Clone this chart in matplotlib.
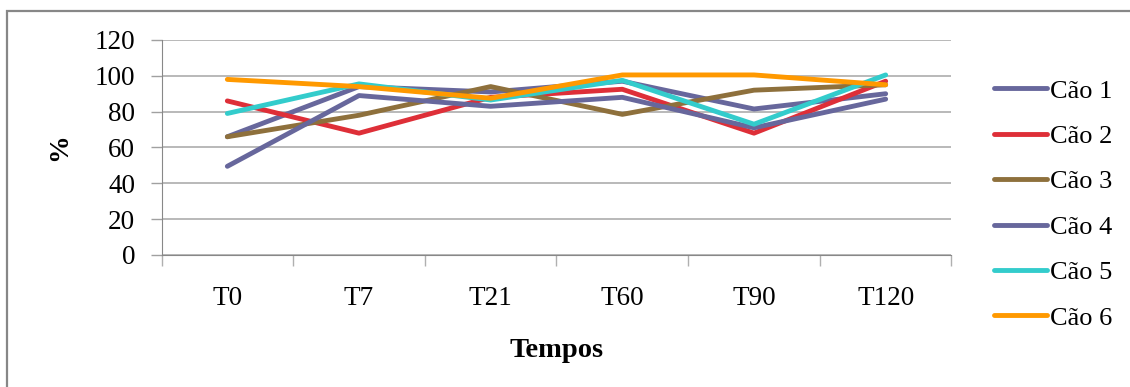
import numpy as np
import matplotlib
matplotlib.use('Agg')
import matplotlib.pyplot as plt
from matplotlib.patches import Rectangle

# data
tempos = ['T0', 'T7', 'T21', 'T60', 'T90', 'T120']
cao_1 = [66, 94, 91, 97, 81.5, 90]
cao_2 = [86, 68, 88, 92.5, 68, 97]
cao_3 = [66, 78, 94, 78.5, 92, 95]
cao_4 = [49.5, 89, 83, 88, 71, 87]
cao_5 = [79, 95.5, 86.5, 97.5, 73, 100.5]
cao_6 = [98, 94, 87.5, 100.5, 100.5, 95]

labels = ['Cão 1', 'Cão 2', 'Cão 3', 'Cão 4', 'Cão 5', 'Cão 6']
colors = ['#67679C', '#DE2F38', '#8E703C', '#67679C', '#33CCCC', '#FF9900']
series = [cao_1, cao_2, cao_3, cao_4, cao_5, cao_6]

plt.rcParams['font.family'] = ['Liberation Serif', 'DejaVu Serif']

fig = plt.figure(figsize=(11.3, 3.87), dpi=100)
fig.patches.append(Rectangle((7 / 1130, -0.05), 1.2, 1 - 11 / 387 + 0.05,
                             transform=fig.transFigure, fill=False,
                             edgecolor='#878787', linewidth=1.6))

ax = fig.add_axes([161.5 / 1130, 1 - 255 / 387, 790 / 1130, 215 / 387])
x = np.arange(len(tempos))
for vals, lab, col in zip(series, labels, colors):
    ax.plot(x, vals, color=col, linewidth=3.5, label=lab, solid_capstyle='round')

ax.set_xlim(-0.5, len(tempos) - 0.5)
ax.set_ylim(0, 120)
ax.set_yticks(range(0, 121, 20))
ax.set_xticks(x)
ax.set_xticklabels(tempos)
ax.set_xticks(np.arange(-0.5, len(tempos)), minor=True)
ax.tick_params(axis='x', which='major', length=0, pad=22, labelsize=19.5)
ax.tick_params(axis='x', which='minor', length=8, color='#b0b0b0', width=1)
ax.tick_params(axis='y', length=8, color='#a0a0a0', width=1, labelsize=19.5, pad=11)
ax.yaxis.grid(True, color='#a6a6a6', linewidth=1.1)
ax.set_axisbelow(True)
for s in ['top', 'right']:
    ax.spines[s].set_visible(False)
ax.spines['left'].set_color('#888888')
ax.spines['bottom'].set_color('#888888')

ax.set_xlabel('Tempos', fontsize=20.5, fontweight='bold', labelpad=20)
ax.set_ylabel('%', fontsize=20, fontweight='bold', labelpad=16)

fig.legend(loc='upper left', bbox_to_anchor=(981 / 1130, 1 - 66 / 387),
           frameon=False, fontsize=19, handlelength=2.0, handletextpad=0.12,
           labelspacing=0.83, borderpad=0)

fig.savefig('out.png', dpi=100)
